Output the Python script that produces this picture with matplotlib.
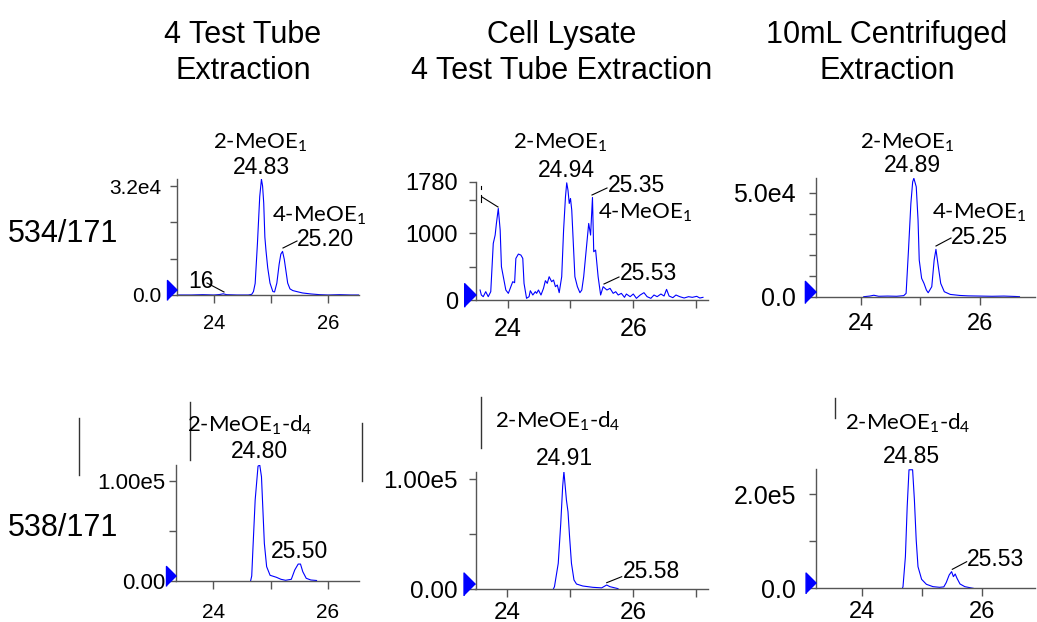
import numpy as np
import matplotlib
matplotlib.use('Agg')
import matplotlib.pyplot as plt
from matplotlib.lines import Line2D

W, H = 1037, 622
plt.rcParams['font.family'] = 'Liberation Sans'
plt.rcParams['mathtext.default'] = 'regular'

#------------------------------------------------------------------
# column / row titles
col_titles = [("4 Test Tube", "Extraction"),
              ("Cell Lysate", "4 Test Tube Extraction"),
              ("10mL Centrifuged", "Extraction")]
row_titles = ["534/171", "538/171"]

#------------------------------------------------------------------
# traces (retention time, counts)
t1 = [23.35, 23.6, 23.8, 24.0, 24.10, 24.16, 24.22, 24.4, 24.6, 24.66, 24.69,
      24.72, 24.76, 24.80, 24.83, 24.85, 24.87, 24.89, 24.91, 24.94, 24.98,
      25.03, 25.06, 25.10, 25.14, 25.17, 25.20, 25.23, 25.26, 25.29, 25.33,
      25.38, 25.45, 25.55, 25.70, 25.85, 26.0, 26.2, 26.4, 26.54]
i1 = [0, 0, 100, 0, 150, 350, 100, 0, 0, 200, 1000,
      3400, 15200, 28900, 34000, 32000, 27000, 17000, 13000, 8000, 3500,
      1000, 900, 3500, 9000, 12000, 12800, 10500, 7000, 3500, 1800,
      1300, 1000, 600, 300, 100, 0, 100, 0, 0]

t2 = [23.56, 23.58, 23.61, 23.65, 23.69, 23.73, 23.77, 23.80, 23.82, 23.85,
      23.88, 23.90, 23.93, 23.97, 24.01, 24.04, 24.08, 24.11, 24.13, 24.17,
      24.21, 24.24, 24.26, 24.30, 24.34, 24.36, 24.40, 24.44, 24.46, 24.49,
      24.53, 24.57, 24.60, 24.63, 24.66, 24.70, 24.73, 24.76, 24.79, 24.82,
      24.86, 24.89, 24.92, 24.94, 24.96, 24.98, 25.00, 25.02, 25.05, 25.07,
      25.11, 25.15, 25.18, 25.21, 25.26, 25.29, 25.32, 25.35, 25.37, 25.40,
      25.44, 25.48, 25.52, 25.58, 25.63, 25.68, 25.72, 25.76, 25.81, 25.86,
      25.89, 25.95, 26.00, 26.05, 26.11, 26.17, 26.22, 26.28, 26.33, 26.38,
      26.44, 26.49, 26.53, 26.57, 26.63, 26.68, 26.74, 26.81, 26.88, 26.94,
      27.01, 27.06, 27.11]
i2 = [150, 75, 50, 125, 50, 125, 850, 975, 1150, 1375,
      1050, 500, 350, 150, 100, 175, 275, 260, 625, 690,
      675, 625, 250, 25, 50, 140, 75, 125, 100, 150,
      75, 175, 290, 250, 350, 275, 300, 200, 225, 110,
      350, 1050, 1550, 1760, 1650, 1450, 1525, 1350, 750, 350,
      200, 110, 150, 350, 850, 1150, 975, 1540, 725, 750,
      350, 75, 200, 150, 175, 100, 125, 75, 100, 40,
      90, 50, 90, 25, 75, 110, 50, 25, 75, 50,
      90, 60, 160, 60, 35, 75, 50, 30, 50, 40,
      55, 30, 40]

t3 = [24.05, 24.15, 24.22, 24.30, 24.45, 24.60, 24.72, 24.76, 24.80, 24.84,
      24.87, 24.89, 24.93, 24.96, 24.98, 25.02, 25.06, 25.10, 25.13, 25.19,
      25.23, 25.26, 25.30, 25.34, 25.40, 25.50, 25.66, 25.80, 26.0, 26.2,
      26.4, 26.6, 26.66]
i3 = [0, 300, 700, 200, 300, 200, 500, 1600, 22500, 44900,
      55300, 57000, 52900, 36900, 17650, 8850, 6400, 3200, 1900, 4800,
      17650, 22800, 14400, 6400, 2400, 1100, 600, 400, 300, 200,
      300, 100, 0]

t4 = [24.65, 24.67, 24.69, 24.73, 24.78, 24.81, 24.84, 24.89, 24.93, 24.99,
      25.10, 25.18, 25.26, 25.36, 25.42, 25.48, 25.52, 25.56, 25.62, 25.70,
      25.80]
i4 = [0, 5000, 30900, 80800, 114600, 115600, 104000, 37600, 14300, 5700,
      3700, 1700, 700, 1700, 11000, 16900, 16900, 9300, 2700, 1000,
      500]

t5 = [24.73, 24.75, 24.81, 24.85, 24.88, 24.90, 24.94, 24.965, 24.99, 25.02,
      25.06, 25.10, 25.20, 25.36, 25.50, 25.58, 25.63, 25.76]
i5 = [0, 2400, 23600, 60000, 93300, 107000, 81200, 70500, 47800, 23600,
      8500, 4800, 3000, 1800, 1300, 3900, 2400, 600]

t6 = [24.68, 24.69, 24.73, 24.76, 24.79, 24.85, 24.88, 24.91, 24.94, 25.00,
      25.08, 25.19, 25.30, 25.37, 25.41, 25.46, 25.50, 25.53, 25.56, 25.59,
      25.64, 25.72, 25.83, 25.86]
i6 = [0, 3500, 67200, 174000, 252000, 252000, 188000, 103000, 46000, 19100,
      8500, 3500, 2100, 3000, 12000, 28400, 35400, 24800, 30400, 21300,
      9200, 3500, 700, 0]

#------------------------------------------------------------------
fig = plt.figure(figsize=(W / 100, H / 100), dpi=100)
axis_col = '#555555'
blue = '#0000ff'


def fx(x):
    return x / W


def fy(y):
    return 1 - y / H


def panel(box, t, inten, xlim, ylim, ymaj, ylab, ymin, xmin, xsize, ysize,
          ypad, xpad, tri_ms):
    left, right, top, base = box
    ax = fig.add_axes([fx(left), fy(base), (right - left) / W, (base - top) / H])
    ax.plot(t, inten, color=blue, lw=0.8)
    ax.set_xlim(xlim)
    ax.set_ylim(ylim)
    for s in ['top', 'right']:
        ax.spines[s].set_visible(False)
    for s in ['left', 'bottom']:
        ax.spines[s].set_color(axis_col)
        ax.spines[s].set_linewidth(1.0)
    ax.set_xticks([24, 26])
    ax.set_xticklabels(['24', '26'])
    ax.set_xticks(xmin, minor=True)
    ax.set_yticks(ymaj)
    ax.set_yticklabels(ylab)
    ax.set_yticks(ymin, minor=True)
    ax.tick_params(axis='x', which='both', direction='out', length=6, width=1,
                   color=axis_col, labelsize=xsize, pad=xpad)
    ax.tick_params(axis='y', which='both', direction='out', length=5, width=1,
                   color=axis_col, labelsize=ysize, pad=ypad)
    # blue start marker on the baseline
    dy = ylim[1] * 5.0 / (base - top)
    ax.plot([xlim[0]], [dy], marker=[(-1, -1), (-1, 1), (0, 0)], ms=tri_ms,
            color=blue, clip_on=False, zorder=5, ls='none')
    return ax


panel((177, 359, 179, 295), t1, i1, (23.35, 26.54), (0, 34060),
      [0, 32000], ['0.0', '3.2e4'], [10667, 21333], [25], 14.5, 15, 6, 8, 14.4)
panel((476, 708, 181.5, 300), t2, i2, (23.495, 27.19), (0, 1780),
      [0, 1000, 1780], ['0', '1000', '1780'], [500, 1500], [25, 27], 18, 17, 8, 6, 17)
panel((816, 1035, 178.3, 296.7), t3, i3, (23.25, 26.92), (0, 57000),
      [0, 50000], ['0.0', '5.0e4'], [10000, 20000, 30000, 40000], [25], 17, 18, 9.4, 6, 16)
panel((176, 359, 465, 581), t4, i4, (23.35, 26.54), (0, 115700),
      [0, 100000], ['0.00', '1.00e5'], [50000], [25], 15, 16, 3, 10, 14.4)
panel((475.5, 708, 471.7, 589.3), t5, i5, (23.495, 27.19), (0, 106900),
      [0, 100000], ['0.00', '1.00e5'], [50000], [25, 27], 17.5, 17.5, 8, 3, 16.5)
panel((816, 1035, 469.3, 588.3), t6, i6, (23.24, 26.89), (0, 253000),
      [0, 200000], ['0.0', '2.0e5'], [100000], [25], 17, 18, 9.4, 3, 15)

#------------------------------------------------------------------
# titles
for (l1, l2), xc in zip(col_titles, [243, 562, 887]):
    fig.text(fx(xc), fy(43), l1, ha='center', va='baseline', fontsize=22)
    fig.text(fx(xc), fy(79), l2, ha='center', va='baseline', fontsize=22)
for name, yb in zip(row_titles, [242, 536]):
    fig.text(fx(8), fy(yb), name, ha='left', va='baseline', fontsize=22)

# peak labels
cmp_font = 'Lato'
m1 = '2-MeOE$_1$'
m4 = '4-MeOE$_1$'
md = '2-MeOE$_1$-d$_4$'
peak_labels = [
    (m1, 260, 149, 'center', cmp_font), ('24.83', 261, 174, 'center', None),
    (m4, 272, 222, 'left', cmp_font), ('25.20', 297, 246, 'left', None),
    ('16', 188, 288, 'left', None),
    (m1, 560, 149, 'center', cmp_font), ('24.94', 566, 177, 'center', None),
    ('25.35', 608, 192, 'left', None), (m4, 598, 219, 'left', cmp_font),
    ('25.53', 620, 280, 'left', None),
    (m1, 907, 149, 'center', cmp_font), ('24.89', 912, 172, 'center', None),
    (m4, 932, 219, 'left', cmp_font), ('25.25', 951, 244, 'left', None),
    (md, 187, 432, 'left', cmp_font), ('24.80', 259, 458, 'center', None),
    ('25.50', 300, 558, 'center', None),
    (md, 495, 428, 'left', cmp_font), ('24.91', 564, 465, 'center', None),
    ('25.58', 623, 578, 'left', None),
    (md, 845, 430, 'left', cmp_font), ('24.85', 911, 463, 'center', None),
    ('25.53', 967, 566, 'left', None),
]
for s, x, y, ha, fam in peak_labels:
    kw = dict(ha=ha, va='baseline')
    if fam:
        fig.text(fx(x), fy(y), s, fontsize=16, family=fam, **kw)
    else:
        fig.text(fx(x), fy(y), s, fontsize=16.5, **kw)

# leader lines and stray marks left over from the cropped screenshots
leaders = [((207, 283), (224, 292)), ((283, 248), (297, 241)),
           ((498, 207), (482, 197)), ((592, 195), (607, 188)),
           ((604, 284), (619, 277)), ((936, 246), (951, 238)),
           ((606.7, 582.7), (621.7, 576.7)), ((952.3, 569.3), (966.7, 561.7)),
           ((481, 186), (481, 189)), ((481, 195), (481, 202))]
for (xa, ya), (xb, yb) in leaders:
    fig.add_artist(Line2D([fx(xa), fx(xb)], [fy(ya), fy(yb)], color='black', lw=0.8))

strays = [(79, 418, 475), (190, 402, 460), (362, 423, 481), (481, 397, 448), (835, 398, 418)]
for x, ya, yb in strays:
    fig.add_artist(Line2D([fx(x), fx(x)], [fy(ya), fy(yb)], color='#333333', lw=1.0))

fig.savefig('out.png', dpi=100)
